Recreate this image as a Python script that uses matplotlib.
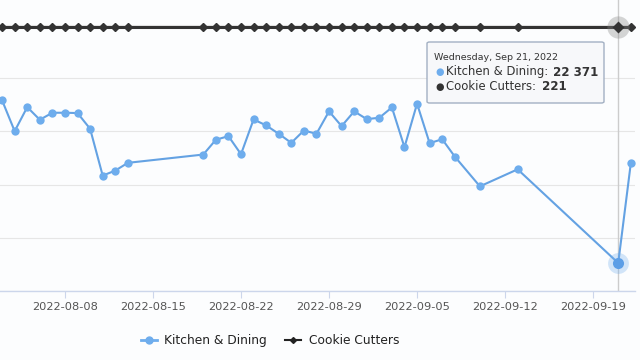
import matplotlib
matplotlib.use("Agg")
import matplotlib.pyplot as plt
import matplotlib.dates as mdates
from matplotlib.lines import Line2D
from matplotlib.patches import FancyBboxPatch
import numpy as np

# Data (y axis is a rank, reversed: 0 on top)
dates = ['2022-08-03', '2022-08-04', '2022-08-05', '2022-08-06', '2022-08-07',
         '2022-08-08', '2022-08-09', '2022-08-10', '2022-08-11', '2022-08-12',
         '2022-08-13', '2022-08-19', '2022-08-20', '2022-08-21', '2022-08-22',
         '2022-08-23', '2022-08-24', '2022-08-25', '2022-08-26', '2022-08-27',
         '2022-08-28', '2022-08-29', '2022-08-30', '2022-08-31', '2022-09-01',
         '2022-09-02', '2022-09-03', '2022-09-04', '2022-09-05', '2022-09-06',
         '2022-09-07', '2022-09-08', '2022-09-10', '2022-09-13', '2022-09-21',
         '2022-09-22']
kitchen = [7075, 9970, 7710, 8900, 8240, 8240, 8270, 9750, 14150, 13680,
           12950, 12170, 10780, 10440, 12140, 8870, 9430, 10220, 11070, 9910,
           10220, 8110, 9500, 8110, 8840, 8710, 7740, 11480, 7390, 11100,
           10730, 12360, 15160, 13560, 22371, 12990]
cookie = [221] * len(dates)
tick_dates = ['2022-08-08', '2022-08-15', '2022-08-22', '2022-08-29',
              '2022-09-05', '2022-09-12', '2022-09-19']
hover_date = '2022-09-21'

x = np.array(dates, dtype='datetime64[D]')
ticks = np.array(tick_dates, dtype='datetime64[D]')
hx = np.datetime64(hover_date)
hi = dates.index(hover_date)

blue = '#6eaded'
dark = '#333333'

fig = plt.figure(figsize=(6.4, 3.6), dpi=100, facecolor='#fcfdfe')
ax = fig.add_axes([0, 69 / 360, 635 / 640, 291 / 360])
ax.set_facecolor('#fcfdfe')

# gridlines every 5000
for g in range(0, 25001, 5000):
    ax.axhline(g, color='#e6e6e6', lw=0.8, zorder=0)

# crosshair
ax.axvline(hx, color='#cccccc', lw=1, zorder=1)

ax.plot(x, kitchen, color='#64a2e3', lw=1.5, zorder=3)
ax.plot(x, kitchen, 'o', color=blue, ms=6, mec='none', zorder=3)
ax.plot(x, cookie, color=dark, lw=2.2, marker='D', ms=3.8, zorder=4)

# hover states
ax.plot(hx, kitchen[hi], 'o', ms=15, color=blue, alpha=0.3, mec='none', zorder=5)
ax.plot(hx, kitchen[hi], 'o', ms=8, color='#5c9ee6', mec='none', zorder=6)
ax.plot(hx, cookie[hi], 'o', ms=16, color='#888888', alpha=0.35, mec='none', zorder=5)
ax.plot(hx, cookie[hi], 'D', ms=6.5, color=dark, mec='none', zorder=6)

x0 = np.datetime64('2022-08-08') - np.timedelta64(124, 'h')
x1 = np.datetime64('2022-09-22') + np.timedelta64(8, 'h')
ax.set_xlim(x0, x1)
ax.set_ylim(25000, -2360)

ax.set_xticks(ticks)
ax.xaxis.set_major_formatter(mdates.DateFormatter('%Y-%m-%d'))
ax.tick_params(axis='x', colors='#ccd6eb', length=5, width=0.8, pad=3,
               labelsize=8.2, labelcolor='#555555')
ax.tick_params(axis='y', left=False, labelleft=False)
for s in ['top', 'right', 'left']:
    ax.spines[s].set_visible(False)
ax.spines['bottom'].set_color('#ccd6eb')
ax.spines['bottom'].set_linewidth(1)

# legend
handles = [Line2D([], [], color=blue, lw=2, marker='o', ms=5),
           Line2D([], [], color='#222222', lw=1.5, marker='D', ms=3)]
fig.legend(handles, ['Kitchen & Dining', 'Cookie Cutters'], ncol=2,
           loc='center', bbox_to_anchor=(0.422, 0.053), frameon=False,
           fontsize=8.8, handlelength=1.3, handletextpad=0.6,
           columnspacing=1.5, labelcolor='#222222')

# tooltip
W, H = 640, 360
box = FancyBboxPatch((427 / W, 1 - 103 / H), 177 / W, 61 / H,
                     boxstyle='round,pad=0,rounding_size=0.004',
                     transform=fig.transFigure, facecolor='#f7f8fa',
                     edgecolor='#9eacc0', lw=1, alpha=0.95, zorder=10)
fig.add_artist(box)
fig.text(434 / W, 1 - 57 / H, 'Wednesday, Sep 21, 2022', fontsize=6.8,
         color='#333333', va='center', zorder=11)
fig.text(435 / W, 1 - 72 / H, '\u25cf', fontsize=7, color=blue, va='center', zorder=11)
fig.text(446 / W, 1 - 72 / H, 'Kitchen & Dining:', fontsize=8.4,
         color='#333333', va='center', zorder=11)
fig.text(553 / W, 1 - 72 / H, '22 371', fontsize=8.6, fontweight='bold',
         color='#333333', va='center', zorder=11)
fig.text(435 / W, 1 - 87 / H, '\u25cf', fontsize=7, color=dark, va='center', zorder=11)
fig.text(446 / W, 1 - 87 / H, 'Cookie Cutters:', fontsize=8.4,
         color='#333333', va='center', zorder=11)
fig.text(542 / W, 1 - 87 / H, f'{cookie[hi]}', fontsize=8.6, fontweight='bold',
         color='#333333', va='center', zorder=11)

fig.savefig('out.png', dpi=100, facecolor=fig.get_facecolor())
